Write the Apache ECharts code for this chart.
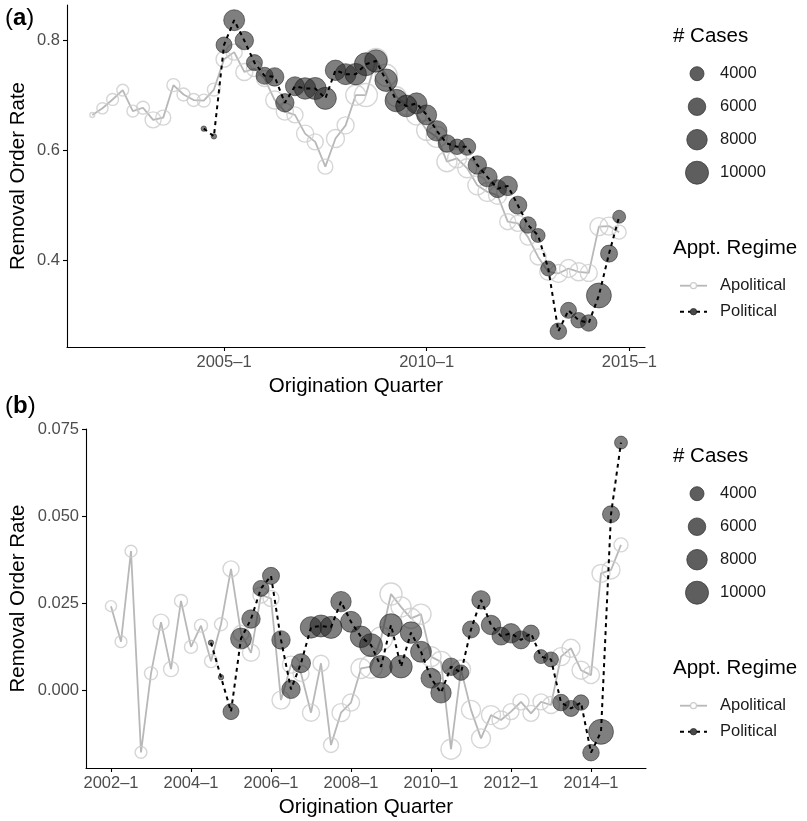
<!DOCTYPE html>
<html>
<head>
<meta charset="utf-8">
<script src="https://cdn.jsdelivr.net/npm/echarts@6/dist/echarts.min.js"></script>
<style>
  html, body { margin: 0; padding: 0; background: #ffffff; }
  #chart { width: 807px; height: 821px; }
</style>
</head>
<body>
<div id="chart"></div>
<script>
// Origination quarters, 2001-4 through 2014-4
const quarters = [
  "2001-4",
  "2002-1","2002-2","2002-3","2002-4","2003-1","2003-2","2003-3","2003-4",
  "2004-1","2004-2","2004-3","2004-4","2005-1","2005-2","2005-3","2005-4",
  "2006-1","2006-2","2006-3","2006-4","2007-1","2007-2","2007-3","2007-4",
  "2008-1","2008-2","2008-3","2008-4","2009-1","2009-2","2009-3","2009-4",
  "2010-1","2010-2","2010-3","2010-4","2011-1","2011-2","2011-3","2011-4",
  "2012-1","2012-2","2012-3","2012-4","2013-1","2013-2","2013-3","2013-4",
  "2014-1","2014-2","2014-3","2014-4"
];

// Number of cases per quarter (bubble size), by appointment regime
const casesApolitical = [
  900,
  2700, 3000, 3000, 3000, 3500, 5100, 4500, 3500,
  3500, 3500, 3500, 3500, 5100, 5100, 5700, 5100,
  5100, 6300, 5700, 5100, 5700, 5100, 4500, 6300,
  5700, 7700, 10000, 10000, 9200, 7700, 7700, 7700,
  7700, 8400, 7700, 7000, 7000, 7000, 7000, 6300,
  5100, 5100, 5100, 5100, 5700, 6300, 6300, 6300,
  5700, 6300, 6300, 4000
];
const casesPolitical = [
  null,
  null, null, null, null, null, null, null, null,
  null, null, 1000, 1000, 5100, 8400, 6600, 5100,
  5700, 6600, 6600, 7000, 8800, 9200, 9200, 8000,
  8400, 8800, 10000, 9600, 9600, 9600, 8800, 8400,
  7700, 8000, 6000, 4800, 5700, 6600, 7300, 6300,
  7300, 6300, 5400, 4000, 4500, 5400, 5100, 4800,
  5400, 11700, 5700, 3500
];

// (a) removal order rate among all cases
const rateA_apolitical = [
  0.664,
  0.676, 0.692, 0.709, 0.671, 0.677, 0.655, 0.659, 0.718,
  0.701, 0.691, 0.690, 0.710, 0.765, 0.778, 0.742, 0.748,
  0.730, 0.691, 0.670, 0.664, 0.630, 0.615, 0.570, 0.621,
  0.645, 0.700, 0.700, 0.764, 0.736, 0.697, 0.682, 0.664,
  0.636, 0.624, 0.579, 0.585, 0.567, 0.536, 0.524, 0.518,
  0.470, 0.467, 0.442, 0.406, 0.379, 0.376, 0.385, 0.379,
  0.377, 0.461, 0.462, 0.451
];
const rateA_political = [
  null,
  null, null, null, null, null, null, null, null,
  null, null, 0.639, 0.625, 0.791, 0.836, 0.799, 0.759,
  0.735, 0.733, 0.686, 0.716, 0.712, 0.712, 0.694, 0.745,
  0.738, 0.738, 0.756, 0.762, 0.727, 0.690, 0.680, 0.685,
  0.664, 0.635, 0.612, 0.606, 0.606, 0.573, 0.551, 0.530,
  0.535, 0.500, 0.464, 0.445, 0.385, 0.271, 0.309, 0.291,
  0.286, 0.336, 0.412, 0.479
];

// (b) removal order rate, second measure
const rateB_apolitical = [
  null,
  0.0243, 0.0141, 0.0401, -0.0177, 0.0050, 0.0197, 0.0062, 0.0258,
  0.0126, 0.0187, 0.0085, 0.0191, 0.0350, 0.0165, 0.0109, 0.0275,
  0.0265, -0.0027, 0.0075, 0.0050, -0.0063, 0.0079, -0.0156, -0.0063,
  -0.0034, 0.0064, 0.0069, 0.0150, 0.0278, 0.0241, 0.0208, 0.0220,
  0.0098, 0.0083, -0.0168, 0.0061, -0.0055, -0.0137, -0.0070, -0.0084,
  -0.0060, -0.0032, -0.0065, -0.0032, -0.0041, 0.0098, 0.0122, 0.0059,
  0.0045, 0.0337, 0.0347, 0.0419
];
const rateB_political = [
  null,
  null, null, null, null, null, null, null, null,
  null, null, 0.0138, 0.0039, -0.0060, 0.0150, 0.0206, 0.0294,
  0.0330, 0.0146, 0.0004, 0.0079, 0.0182, 0.0186, 0.0182, 0.0256,
  0.0198, 0.0155, 0.0131, 0.0069, 0.0189, 0.0069, 0.0167, 0.0112,
  0.0036, -0.0006, 0.0069, 0.0052, 0.0176, 0.0261, 0.0189, 0.0157,
  0.0165, 0.0146, 0.0165, 0.0098, 0.0090, -0.0034, -0.0051, -0.0034,
  -0.0178, -0.0118, 0.0507, 0.0713
];

// Axis ticks
const ticksA_x = ["2005-1", "2010-1", "2015-1"];
const ticksB_x = ["2002-1", "2004-1", "2006-1", "2008-1", "2010-1", "2012-1", "2014-1"];
const ticksA_y = [0.4, 0.6, 0.8];
const ticksB_y = [0, 0.025, 0.05, 0.075];

// Size legend entries
const sizeKeys = [4000, 6000, 8000, 10000];

// quarter "YYYY-Q" -> running index (2000-1 = 0)
function qIndex(s) {
  const p = s.split("-");
  return (parseInt(p[0], 10) - 2000) * 4 + parseInt(p[1], 10) - 1;
}
function qLabel(v) {
  const i = Math.round(v);
  return (2000 + Math.floor(i / 4)) + "\u2013" + ((i % 4) + 1);
}
// bubble diameter: area grows linearly with number of cases
function sizeFor(c) {
  const a = 196 + 0.0555 * (c - 4000);
  return Math.sqrt(Math.max(a, 9));
}
function points(rates, cases) {
  const out = [];
  quarters.forEach(function (q, i) {
    if (rates[i] !== null && cases[i] !== null) out.push([qIndex(q), rates[i], cases[i]]);
  });
  return out;
}
function linePts(rates) {
  const out = [];
  quarters.forEach(function (q, i) {
    if (rates[i] !== null) out.push([qIndex(q), rates[i]]);
  });
  return out;
}

const FONT = "'Liberation Sans', Arial, Helvetica, sans-serif";
const tickColor = "#4d4d4d";
const TICK_PX = 16.5;
const TITLE_PX = 20.5;

function xAxisFor(grid, ticks, min, max) {
  return {
    type: "value", gridIndex: grid, min: min, max: max,
    name: "Origination Quarter", nameLocation: "middle", nameGap: 29, nameMoveOverlap: false,
    nameTextStyle: { fontFamily: FONT, fontSize: TITLE_PX, color: "#000" },
    axisLine: { show: true, onZero: false, lineStyle: { color: "#000", width: 1.1 } },
    axisTick: { show: true, length: 4, lineStyle: { color: "#000", width: 1.1 }, customValues: ticks.map(qIndex) },
    axisLabel: { fontFamily: FONT, fontSize: TICK_PX, color: tickColor, margin: 7, customValues: ticks.map(qIndex), formatter: qLabel },
    splitLine: { show: false }
  };
}
function yAxisFor(grid, ticks, min, max, digits, gap) {
  return {
    type: "value", gridIndex: grid, min: min, max: max,
    name: "Removal Order Rate", nameLocation: "middle", nameGap: gap, nameRotate: 90, nameMoveOverlap: false,
    nameTextStyle: { fontFamily: FONT, fontSize: TITLE_PX, color: "#000" },
    axisLine: { show: true, onZero: false, lineStyle: { color: "#000", width: 1.1 } },
    axisTick: { show: true, length: 4, lineStyle: { color: "#000", width: 1.1 }, customValues: ticks },
    axisLabel: { fontFamily: FONT, fontSize: TICK_PX, color: tickColor, margin: 7, customValues: ticks,
      formatter: function (v) { return v.toFixed(digits); } },
    splitLine: { show: false }
  };
}

function panelSeries(ax, rateApo, ratePol) {
  return [
    {
      type: "line", xAxisIndex: ax, yAxisIndex: ax, data: linePts(rateApo),
      showSymbol: false, symbol: "none", z: 2, silent: true,
      lineStyle: { color: "#b8b8b8", width: 1.8 }
    },
    {
      type: "scatter", xAxisIndex: ax, yAxisIndex: ax, data: points(rateApo, casesApolitical),
      symbol: "circle", symbolSize: function (v) { return sizeFor(v[2]); }, z: 3, silent: true,
      itemStyle: { color: "rgba(255,255,255,0)", borderColor: "#cccccc", borderWidth: 1.4 }
    },
    {
      type: "scatter", xAxisIndex: ax, yAxisIndex: ax, data: points(ratePol, casesPolitical),
      symbol: "circle", symbolSize: function (v) { return sizeFor(v[2]); }, z: 4, silent: true,
      itemStyle: { color: "rgba(38,38,38,0.74)", borderColor: "rgba(25,25,25,0.8)", borderWidth: 0.8 }
    },
    {
      type: "line", xAxisIndex: ax, yAxisIndex: ax, data: linePts(ratePol),
      showSymbol: false, symbol: "none", z: 5, silent: true,
      lineStyle: { color: "#000", width: 2, type: [4, 4] }
    }
  ];
}

function label(x, y, txt, px, color) {
  return { type: "text", x: x, y: y,
    style: { text: txt, font: px + "px " + FONT, fill: color, verticalAlign: "middle", align: "left" } };
}

// legend blocks drawn beside each panel; t = centre line of the "# Cases" title
function legendBlock(t) {
  const els = [];
  els.push(label(673, t, "# Cases", TITLE_PX, "#000"));
  const dy = [37, 70, 103, 136];
  sizeKeys.forEach(function (k, i) {
    const d = sizeFor(k);
    els.push({ type: "circle", shape: { cx: 697, cy: t + dy[i], r: d / 2 },
      style: { fill: "#5e5e5e", stroke: "#3a3a3a", lineWidth: 0.8 } });
    els.push(label(720, t + dy[i], String(k), TICK_PX, "#1a1a1a"));
  });
  els.push(label(673, t + 212, "Appt. Regime", TITLE_PX, "#000"));
  const y1 = t + 249, y2 = t + 275;
  els.push({ type: "line", shape: { x1: 680, y1: y1, x2: 707, y2: y1 }, style: { stroke: "#b8b8b8", lineWidth: 1.8 } });
  els.push({ type: "circle", shape: { cx: 693.5, cy: y1, r: 3 }, style: { fill: "#fff", stroke: "#cccccc", lineWidth: 1.2 } });
  els.push(label(720, y1, "Apolitical", TICK_PX, "#1a1a1a"));
  els.push({ type: "line", shape: { x1: 680, y1: y2, x2: 707, y2: y2 }, style: { stroke: "#000", lineWidth: 2, lineDash: [4, 4] } });
  els.push({ type: "circle", shape: { cx: 693.5, cy: y2, r: 3.2 }, style: { fill: "#4a4a4a", stroke: "#2a2a2a", lineWidth: 0.8 } });
  els.push(label(720, y2, "Political", TICK_PX, "#1a1a1a"));
  return els;
}

function panelTag(letter, y) {
  return {
    type: "text", x: 5, y: y,
    style: {
      text: "({b|" + letter + "})", verticalAlign: "middle",
      font: "24px " + FONT, fill: "#000",
      rich: { b: { fontWeight: "bold", fontSize: 24, fontFamily: FONT } }
    }
  };
}

const chart = echarts.init(document.getElementById("chart"), null, { renderer: "canvas" });
chart.setOption({
  backgroundColor: "#ffffff",
  animation: false,
  grid: [
    { left: 67, top: 5, width: 578, height: 342, outerBoundsMode: "none", containLabel: false },
    { left: 86, top: 429, width: 560, height: 339, outerBoundsMode: "none", containLabel: false }
  ],
  xAxis: [
    xAxisFor(0, ticksA_x, 4.5, 61.55),
    xAxisFor(1, ticksB_x, 5.5, 61.5)
  ],
  yAxis: [
    yAxisFor(0, ticksA_y, 0.2424, 0.8636, 1, 38),
    yAxisFor(1, ticksB_y, -0.0222, 0.0752, 3, 57)
  ],
  series: panelSeries(0, rateA_apolitical, rateA_political)
    .concat(panelSeries(1, rateB_apolitical, rateB_political)),
  graphic: [panelTag("a", 18), panelTag("b", 406)]
    .concat(legendBlock(36.7))
    .concat(legendBlock(456.7))
});
</script>
</body>
</html>
